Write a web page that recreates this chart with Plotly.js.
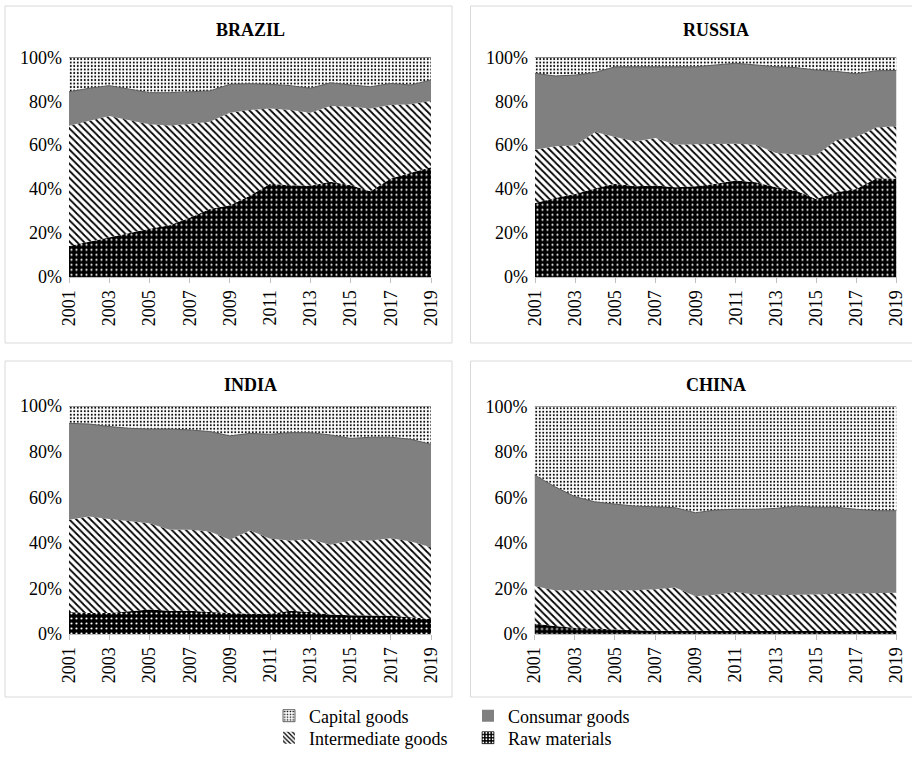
<!DOCTYPE html>
<html>
<head>
<meta charset="utf-8">
<script src="https://cdn.plot.ly/plotly-3.0.1.min.js"></script>
<style>html,body{margin:0;padding:0;background:#fff;}#chart{width:912px;height:764px;}</style>
</head>
<body>
<div id="chart"></div>
<script>
var years = [2001,2002,2003,2004,2005,2006,2007,2008,2009,2010,2011,2012,2013,2014,2015,2016,2017,2018,2019];
var seriesNames = ["Raw materials", "Intermediate goods", "Consumar goods", "Capital goods"];
var countries = ["BRAZIL", "RUSSIA", "INDIA", "CHINA"];

var brazilRaw   = [14.1,16,18,20,22,23.5,27,31,32.7,37,42.5,41.8,41.5,43.3,41.8,39,44.8,47.4,50];
var brazilInter = [54.7,55,55.3,51.4,47.5,45.5,42.6,39.7,42.1,39,34.2,34.2,33.3,34.5,35.7,37.7,33.5,31.2,30.1];
var brazilCons  = [15.5,14.9,13.8,14,14.4,14.9,14.7,14,12.9,12,11,11.1,11.1,10.6,9.9,9.9,9.8,8.8,9.6];
var brazilCap   = [15.7,14.1,12.9,14.6,16.1,16.1,15.7,15.3,12.3,12,12.3,12.9,14.1,11.6,12.6,13.4,11.9,12.6,10.3];

var russiaRaw   = [33.7,36,37.8,40.4,42.4,41.3,41.6,40.9,41.3,42.4,43.9,43.1,40.9,39.3,35.5,38.6,40.1,45,44.7];
var russiaInter = [24.2,23.5,22.1,25.6,21.3,20.4,21.7,19.3,19.1,18,16.8,17.1,15.5,16.5,19.8,23.6,23.6,23,23.9];
var russiaCons  = [34.8,32,32,27.1,32,34,32.4,35.5,35.3,36.1,36.6,36.3,39.3,39.5,38.9,31.4,28.8,25.9,25.4];
var russiaCap   = [7.3,8.5,8.1,6.9,4.3,4.3,4.3,4.3,4.3,3.5,2.7,3.5,4.3,4.7,5.8,6.4,7.5,6.1,6];

var indiaRaw    = [9.6,9.2,9.2,9.9,10.7,10.2,10.2,9.6,9.2,8.9,8.9,10.2,9.6,8.5,8.2,8,8,7.4,6.6];
var indiaInter  = [40.5,42.3,41.2,39.7,37.9,35.5,35.5,35.4,32.1,36.5,32.9,30.8,32,30.6,32.8,33,34,33.2,31.5];
var indiaCons   = [42.3,40.6,40.6,40.6,41.3,44.2,43.8,43.8,45.6,42.6,45.8,47.3,46.7,48.2,44.8,45.3,44.3,44.8,45.1];
var indiaCap    = [7.6,7.9,9,9.8,10.1,10.1,10.5,11.2,13.1,12,12.4,11.7,11.7,12.7,14.2,13.7,13.7,14.6,16.8];

var chinaRaw    = [4.6,3.5,2.8,2.3,1.9,1.6,1.4,1.4,1.4,1.4,1.4,1.3,1.3,1.3,1.3,1.3,1.3,1.3,1.3];
var chinaInter  = [16.5,15.7,16.4,16.9,17.3,17.6,18.3,19,15.2,15.9,17.1,16,15.7,16,16.2,16.3,16.5,16.8,16.8];
var chinaCons   = [48.8,45.6,41.2,38.9,37.9,37,36.2,35.1,36.7,37.2,36.3,37.5,38.2,38.9,38.2,38.1,37,36.1,36.1];
var chinaCap    = [30.1,35.2,39.6,41.9,42.9,43.8,44.1,44.5,46.7,45.5,45.2,45.2,44.8,43.8,44.3,44.3,45.2,45.8,45.8];

var countryData = [
  [brazilRaw, brazilInter, brazilCons, brazilCap],
  [russiaRaw, russiaInter, russiaCons, russiaCap],
  [indiaRaw, indiaInter, indiaCons, indiaCap],
  [chinaRaw, chinaInter, chinaCons, chinaCap]
];

var FONT = "Liberation Serif";

var styles = [
  {fillcolor: "#000000", fillpattern: {shape: ".", bgcolor: "#000000", fgcolor: "#ffffff", size: 5, solidity: 0.15}, line: {width: 0, color: "#000"}},
  {fillcolor: "#ffffff", fillpattern: {shape: "\\", bgcolor: "#ffffff", fgcolor: "#000000", size: 5, solidity: 0.35}, line: {width: 0, color: "#000"}},
  {fillcolor: "#808080", line: {width: 1, color: "#595959"}},
  {fillcolor: "#ffffff", fillpattern: {shape: ".", bgcolor: "#ffffff", fgcolor: "#000000", size: 3.5, solidity: 0.25}, line: {width: 1, color: "#404040"}}
];

var traces = [];
for (var c = 0; c < 4; c++) {
  var sfx = c === 0 ? "" : String(c + 1);
  for (var s = 0; s < 4; s++) {
    var t = {
      type: "scatter", mode: "lines",
      x: years, y: countryData[c][s],
      stackgroup: "g" + c,
      name: seriesNames[s],
      showlegend: false,
      xaxis: "x" + sfx, yaxis: "y" + sfx,
      fillcolor: styles[s].fillcolor,
      line: styles[s].line,
      hoverinfo: "x+y+name"
    };
    if (styles[s].fillpattern) t.fillpattern = styles[s].fillpattern;
    traces.push(t);
  }
}

// legend-only swatches
var legendPatterns = [
  {shape: ".", bgcolor: "#000000", fgcolor: "#ffffff", size: 4, solidity: 0.3},
  {shape: "\\", bgcolor: "#ffffff", fgcolor: "#000000", size: 4, solidity: 0.4},
  null,
  {shape: ".", bgcolor: "#ffffff", fgcolor: "#000000", size: 3.5, solidity: 0.25}
];
var legendColors = ["#000000", "#ffffff", "#808080", "#ffffff"];
var legendIds = ["legend4", "legend3", "legend2", "legend"];
for (var s2 = 0; s2 < 4; s2++) {
  var m = {color: legendColors[s2], line: {width: s2 === 1 || s2 === 2 ? 0 : 0.6, color: "#000"}};
  if (legendPatterns[s2]) m.pattern = legendPatterns[s2];
  traces.push({
    type: "bar", x: [null], y: [null], name: seriesNames[s2],
    marker: m, showlegend: true, legend: legendIds[s2],
    xaxis: "x", yaxis: "y", hoverinfo: "skip"
  });
}

var W = 912, H = 764;
function px(x) { return x / W; }
function py(y) { return 1 - y / H; }

var plotBoxes = [
  {x0: 69, x1: 431, y0: 57.3, y1: 277},
  {x0: 535, x1: 896.5, y0: 57.3, y1: 277},
  {x0: 69, x1: 431, y0: 406, y1: 634},
  {x0: 534.5, x1: 896.5, y0: 406.5, y1: 634}
];

function legendAt(x, yTop) {
  return {x: px(x), y: py(yTop), xanchor: "left", yanchor: "top",
          font: {family: FONT, size: 18, color: "#000"}, bgcolor: "rgba(0,0,0,0)", itemwidth: 30};
}

var layout = {
  width: W, height: H,
  margin: {l: 0, r: 0, t: 0, b: 0},
  paper_bgcolor: "#ffffff", plot_bgcolor: "#ffffff",
  font: {family: FONT, size: 18, color: "#000"},
  showlegend: true,
  legend: legendAt(269, 697.5),
  legend2: legendAt(468, 697.5),
  legend3: legendAt(269, 719.5),
  legend4: legendAt(468, 719.5),
  annotations: [],
  shapes: [
    {type: "rect", xref: "paper", yref: "paper", x0: px(5), x1: px(452), y0: py(6), y1: py(343), line: {color: "#d9d9d9", width: 1}},
    {type: "rect", xref: "paper", yref: "paper", x0: px(470.5), x1: px(930), y0: py(6), y1: py(343), line: {color: "#d9d9d9", width: 1}},
    {type: "rect", xref: "paper", yref: "paper", x0: px(5), x1: px(452), y0: py(361), y1: py(697), line: {color: "#d9d9d9", width: 1}},
    {type: "rect", xref: "paper", yref: "paper", x0: px(470.5), x1: px(930), y0: py(361), y1: py(697), line: {color: "#d9d9d9", width: 1}}
  ]
};

var titleY = [30, 30, 385, 385];
for (var k = 0; k < 4; k++) {
  var b = plotBoxes[k];
  var sf = k === 0 ? "" : String(k + 1);
  layout["xaxis" + sf] = {
    domain: [px(b.x0), px(b.x1)],
    anchor: "y" + sf,
    range: [2001, 2019],
    tickmode: "linear", tick0: 2001, dtick: 2,
    ticks: "outside", ticklen: 5, tickcolor: "#bfbfbf", tickwidth: 1,
    tickangle: -90,
    showline: true, linecolor: "#bfbfbf", linewidth: 1,
    showgrid: false, zeroline: false,
    tickfont: {family: FONT, size: 18, color: "#000"},
    fixedrange: true
  };
  layout["yaxis" + sf] = {
    domain: [py(b.y1), py(b.y0)],
    anchor: "x" + sf,
    range: [0, 100],
    tickmode: "linear", tick0: 0, dtick: 20,
    ticksuffix: "%",
    ticks: "", showline: false, showgrid: false, zeroline: false,
    ticklabelstandoff: 6,
    tickfont: {family: FONT, size: 18, color: "#000"},
    fixedrange: true
  };
  layout.annotations.push({
    xref: "paper", yref: "paper",
    x: px((b.x0 + b.x1) / 2), y: py(titleY[k]),
    xanchor: "center", yanchor: "middle",
    text: "<b>" + countries[k] + "</b>", showarrow: false,
    font: {family: FONT, size: 18, color: "#000"}
  });
}

Plotly.newPlot("chart", traces, layout, {displayModeBar: false, staticPlot: true});
</script>
</body>
</html>
